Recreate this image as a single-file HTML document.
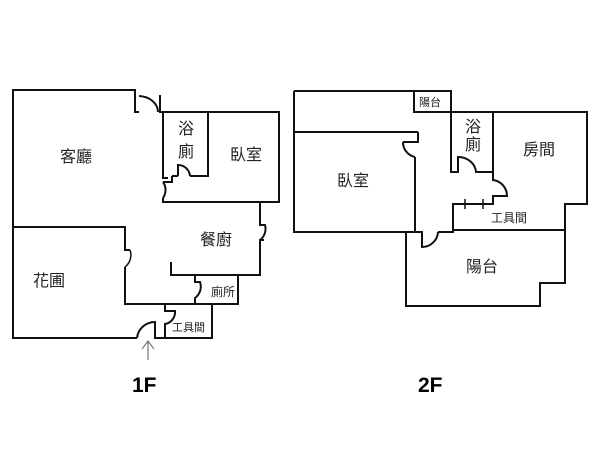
<!DOCTYPE html>
<html><head><style>body{margin:0;background:#fff}svg{display:block}text{font-family:"Liberation Sans","Noto Sans CJK TC",sans-serif;fill:#222}</style></head><body>
<svg width="600" height="450" viewBox="0 0 600 450" xmlns="http://www.w3.org/2000/svg">
<g fill="none" stroke="#111" stroke-width="2">
<!-- 1F -->
<path d="M137,338 H13 V90 H135 V112 H139"/>
<path d="M139,96 A20,16 0 0 1 158,112"/>
<path d="M160,95 V112 H279 V202 H163 V198"/>
<path d="M163,112 V178 H168"/>
<path d="M163,182 A14,14 0 0 1 163,198"/>
<path d="M163,182 H172 V176 M172,176 H178"/>
<path d="M208,112 V176 H190"/>
<path d="M178,176 V165 A12,12 0 0 1 190,176"/>
<path d="M13,227 H125 V250 H130 M125,267 V304 H238 V275 H260 V240 H264"/>
<path d="M130,250 A15,15 0 0 1 125,267" stroke-width="1.5"/>
<path d="M260,202 V225 H265 A14,14 0 0 1 260,240"/>
<path d="M171,262 V275 H238"/>
<path d="M195,275 V282 H200 A14,14 0 0 1 195,298 V304"/>
<path d="M165,304 V311 H175 A12,12 0 0 1 165,324 V338 H212 V304"/>
<path d="M137,338 A18,18 0 0 1 155,322 V338 H165"/>
<!-- 2F -->
<path d="M294,91 H451 V172 H458 V157 A18,16 0 0 1 476,172 H493"/>
<path d="M414,91 V112 H587 V204 H565 V230 H453 V204 H493 V196 H507 A16,16 0 0 0 493,180 V112"/>
<path d="M294,91 V232 H415 V157 M418,132 H294 M418,132 V142 H403"/>
<path d="M403,142 A15,15 0 0 0 415,157"/>
<path d="M406,232 V306 H540 V283 H565 V230 M438,232 A16,16 0 0 1 422,247 V232 H406"/>
<path d="M453,230 V232 H438" />
<path d="M465,199 V209 M483,199 V209" stroke-width="1.5"/>
</g>
<path d="M148,360 V342 M142,349 L148,341 L154,349" fill="none" stroke="#777" stroke-width="1.2"/>
<g font-size="16">
<text x="60" y="162">客廳</text>
<text x="178" y="134">浴</text><text x="178" y="157">廁</text>
<text x="230" y="160">臥室</text>
<text x="200" y="245">餐廚</text>
<text x="33" y="286">花圃</text>
<text x="337" y="186">臥室</text>
<text x="465" y="132">浴</text><text x="465" y="150">廁</text>
<text x="523" y="155">房間</text>
<text x="466" y="272">陽台</text>
</g>
<g font-size="12">
<text x="211" y="296">廁所</text>
<text x="491" y="222">工具間</text>
</g>
<g font-size="11">
<text x="172" y="331">工具間</text>
<text x="419" y="106">陽台</text>
</g>
<text x="132" y="392" font-size="21" font-weight="bold" style="fill:#000">1F</text>
<text x="418" y="392" font-size="21" font-weight="bold" style="fill:#000">2F</text>
</svg>
</body></html>
